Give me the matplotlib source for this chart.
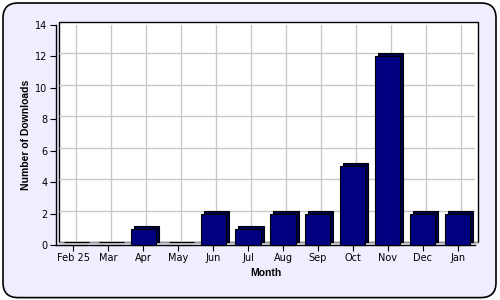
import matplotlib
matplotlib.use('Agg')
import matplotlib.pyplot as plt
import matplotlib.transforms as mtransforms
from matplotlib.patches import FancyBboxPatch, Rectangle
import numpy as np

months = ['Feb 25', 'Mar', 'Apr', 'May', 'Jun', 'Jul', 'Aug', 'Sep', 'Oct', 'Nov', 'Dec', 'Jan']
downloads = [0, 0, 1, 0, 2, 1, 2, 2, 5, 12, 2, 2]
y_ticks = [0, 2, 4, 6, 8, 10, 12, 14]

plt.rcParams['font.family'] = ['DejaVu Sans']

fig = plt.figure(figsize=(5, 3), dpi=100)
fig.patch.set_facecolor('white')

# rounded lavender background
bg = FancyBboxPatch((0.006, 0.008), 0.986, 0.982, boxstyle='round,pad=0,rounding_size=0.03',
                    transform=fig.transFigure, facecolor='#eeeeff', edgecolor='black',
                    linewidth=1.2, zorder=-10, mutation_aspect=5 / 3)
fig.patches.append(bg)

ax = fig.add_axes([0.112, 0.1833, 0.838, 0.7333])
ax.patch.set_visible(False)

x = np.arange(len(months))
width = 0.72
n = len(months)
depth = 3

# back wall + grid, shifted up/right for the 3D look
back = mtransforms.offset_copy(ax.transData, fig=fig, x=depth, y=depth, units='dots')
ax.add_patch(Rectangle((-0.5, 0), n, y_ticks[-1], transform=back, facecolor='white',
                       edgecolor='black', linewidth=1, zorder=0, clip_on=False))
ax.hlines(y_ticks[1:-1], -0.5, n - 0.5, transform=back, color='#c8c8c8', linewidth=1, zorder=1)
ax.vlines(x, 0, y_ticks[-1], transform=back, color='#c8c8c8', linewidth=1, zorder=1)
ax.add_patch(Rectangle((-0.5, 0), n, 0, transform=back, edgecolor='#999999',
                       linewidth=0.8, zorder=1, clip_on=False))

# bars: darker copy shifted behind the front face
ax.bar(x, downloads, width=width, color='#000048', edgecolor='black',
       linewidth=0.8, transform=back, zorder=3, clip_on=False)
ax.bar(x, downloads, width=width, color='#000080', edgecolor='black', linewidth=0.8,
       zorder=4, clip_on=False)

ax.set_xlim(-0.5, n - 0.5)
ax.set_ylim(0, 14)
ax.set_yticks(y_ticks)
ax.set_xticks(x)
ax.set_xticklabels(months)
ax.tick_params(axis='both', labelsize=7, length=4, width=0.8, color='black', pad=2)

ax.spines['top'].set_visible(False)
ax.spines['right'].set_visible(False)
ax.spines['left'].set_linewidth(1)
ax.spines['bottom'].set_linewidth(1)
ax.spines['left'].set_zorder(5)
ax.spines['bottom'].set_zorder(2)

ax.set_xlabel('Month', fontsize=7.5, fontweight='bold', labelpad=3, family='Liberation Sans')
ax.set_ylabel('Number of Downloads', fontsize=7.5, fontweight='bold', labelpad=3,
              family='Liberation Sans')

fig.savefig('out.png', dpi=100, facecolor=fig.get_facecolor())
